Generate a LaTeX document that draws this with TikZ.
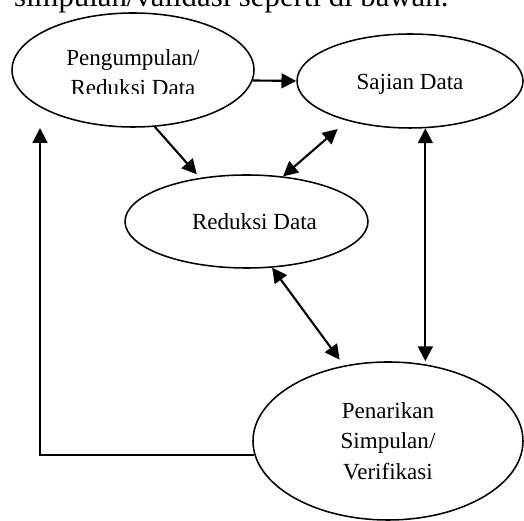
\documentclass[tikz,border=0pt]{standalone}
\usepackage{fontspec}
\setmainfont{Liberation Serif}
\usetikzlibrary{shapes.geometric, arrows.meta}

\begin{document}
\begin{tikzpicture}[>={Triangle[length=10.5pt, width=10.5pt]}, line width=1.5pt,
        oval/.style={ellipse, draw, line width=1.1pt, inner sep=0pt, align=center,
            font=\fontsize{16.4}{21.7}\selectfont}]
        \useasboundingbox (0, 0) rectangle (13.1, 13.025);
        \node[anchor=base west, inner sep=0pt, font=\fontsize{21.9}{26}\selectfont] (kalimat) at (0.325, 12.85) {simpulan/validasi seperti di bawah.};
        \node[oval, minimum width=6.05cm, minimum height=2.85cm] (pengumpulan) at (3.325, 11.275) {\rule{0pt}{0.54cm}Pengumpulan/\\Reduksi Data};
        \fill[white] (1.5, 10.675) rectangle (5.1, 10.4);
        \node[oval, minimum width=5.65cm, minimum height=2.35cm] (sajian) at (10.25, 11.0) {\rule{0pt}{0.57cm}Sajian Data};
        \node[oval, minimum width=6.075cm, minimum height=2.325cm] (reduksi) at (6.1625, 7.4875) {\hspace*{0.4cm}Reduksi Data};
        \node[oval, minimum width=6.75cm, minimum height=3.95cm] (penarikan) at (9.7, 2.0) {Penarikan\\Simpulan/\\Verifikasi};
        \coordinate (balik) at (1.0, 9.825);
        \draw[->] (pengumpulan.-5) -- (sajian.west);
        \draw[->] (pengumpulan.-69) -- ([yshift=0.1cm]reduksi.139);
        \draw[<->] (reduksi.51) -- ([yshift=-0.28cm]sajian.207);
        \draw[<->] (reduksi.-61) -- ([yshift=0.17cm]penarikan.123);
        \draw[<->] (sajian.-72) -- (sajian.-72 |- penarikan.north);
        \draw[->] (penarikan.186) -| (balik);
    \end{tikzpicture}
\end{document}
